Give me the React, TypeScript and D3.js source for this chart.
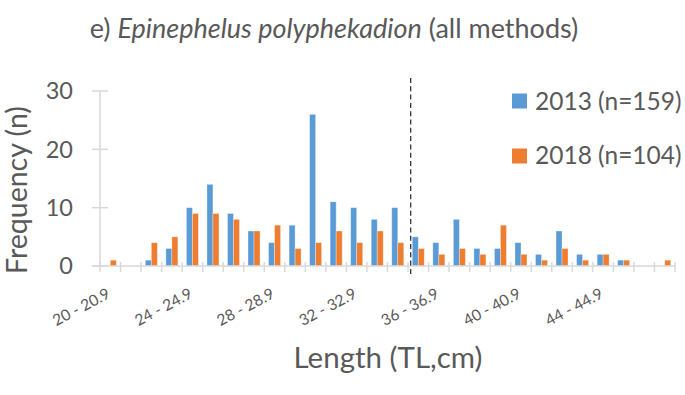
import React from "react";
import * as d3 from "d3";

const categories: string[] = [
  "20 - 20.9","21 - 21.9","22 - 22.9","23 - 23.9","24 - 24.9","25 - 25.9","26 - 26.9",
  "27 - 27.9","28 - 28.9","29 - 29.9","30 - 30.9","31 - 31.9","32 - 32.9","33 - 33.9",
  "34 - 34.9","35 - 35.9","36 - 36.9","37 - 37.9","38 - 38.9","39 - 39.9","40 - 40.9",
  "41 - 41.9","42 - 42.9","43 - 43.9","44 - 44.9","45 - 45.9","46 - 46.9","47 - 47.9",
];
const values2013: number[] = [0,0,1,3,10,14,9,6,4,7,26,11,10,8,10,5,4,8,3,3,4,2,6,2,2,1,0,0];
const values2018: number[] = [1,0,4,5,9,9,8,6,7,3,4,6,4,6,4,3,2,3,2,7,2,1,3,1,2,1,0,1];
const seriesNames: string[] = ["2013 (n=159)", "2018 (n=104)"];
const seriesKeys: string[] = ["2013", "2018"];
const colors: string[] = ["#5B9BD5", "#ED7D31"];
const yTicks: number[] = [0, 10, 20, 30];
const labelEvery = 4;
const cutoffLength = 35.13;

const W = 685, H = 395;
const FONT = "Lato, 'Noto Sans', sans-serif";
const TEXT = "#595959";
const AXIS = "#d9d9d9";

export default function App() {
  const left = 100, right = 675, top = 91, bottom = 266;
  const x = d3.scaleBand<string>().domain(categories).range([left, right]).paddingInner(0).paddingOuter(0);
  const x1 = d3.scaleBand<string>().domain(seriesKeys).range([0, x.bandwidth()]).paddingInner(0).paddingOuter(0.71);
  const y = d3.scaleLinear().domain([0, 30]).range([bottom, top]);
  const xLen = d3.scaleLinear().domain([20, 20 + categories.length]).range([left, right]);
  const series = [values2013, values2018];

  const boundaries = d3.range(categories.length + 1).map((i) => left + i * x.step());

  return (
    <svg width={W} height={H} style={{ position: "absolute", left: 0, top: 0, background: "#fff" }} fontFamily={FONT}>
      <rect x={0} y={0} width={W} height={H} fill="#fff" />
      {/* title */}
      <text x={334} y={38} textAnchor="middle" fontSize={27} fill={TEXT}>
        e) <tspan fontStyle="italic">Epinephelus polyphekadion</tspan> (all methods)
      </text>

      {/* y axis */}
      <line x1={left} x2={left} y1={top} y2={bottom} stroke={AXIS} strokeWidth={1.5} />
      {yTicks.map((t) => (
        <g key={t}>
          <line x1={92} x2={108} y1={y(t)} y2={y(t)} stroke={AXIS} strokeWidth={1.5} />
          <text x={73} y={y(t)} dy="0.36em" textAnchor="end" fontSize={23.5} fill={TEXT}>{t}</text>
        </g>
      ))}

      {/* bars */}
      {series.map((vals, si) =>
        vals.map((v, i) =>
          v > 0 ? (
            <rect
              key={si + "-" + i}
              x={(x(categories[i]) as number) + (x1(seriesKeys[si]) as number)}
              y={y(v)}
              width={x1.bandwidth()}
              height={y(0) - y(v)}
              fill={colors[si]}
              stroke="#ffffff"
              strokeOpacity={0.4}
              strokeWidth={0.8}
            />
          ) : null
        )
      )}

      {/* x axis */}
      <line x1={92} x2={right} y1={bottom} y2={bottom} stroke={AXIS} strokeWidth={1.5} />
      {boundaries.map((bx, i) => (
        <line key={i} x1={bx} x2={bx} y1={262} y2={272} stroke={AXIS} strokeWidth={1.5} />
      ))}
      {categories.map((c, i) =>
        i % labelEvery === 0 ? (
          <text
            key={c}
            transform={`translate(${(x(c) as number) + x.bandwidth() / 2 + 1},${297}) rotate(-28)`}
            textAnchor="end"
            fontSize={15.5}
            fill={TEXT}
          >
            {c}
          </text>
        ) : null
      )}

      {/* dashed cutoff line */}
      <line x1={xLen(cutoffLength)} x2={xLen(cutoffLength)} y1={78} y2={277} stroke="#262626" strokeWidth={1.2} strokeDasharray="5,3.3" />

      {/* axis titles */}
      <text transform={`translate(27,190) rotate(-90)`} textAnchor="middle" fontSize={28.5} fill={TEXT}>Frequency (n)</text>
      <text x={388} y={368} textAnchor="middle" fontSize={29.5} fill={TEXT}>Length (TL,cm)</text>

      {/* legend */}
      {seriesNames.map((n, i) => (
        <g key={n}>
          <rect x={512} y={93.5 + i * 55} width={15} height={15} fill={colors[i]} />
          <text x={535} y={109.5 + i * 54.5} fontSize={24.5} fill={TEXT}>{n}</text>
        </g>
      ))}
    </svg>
  );
}
